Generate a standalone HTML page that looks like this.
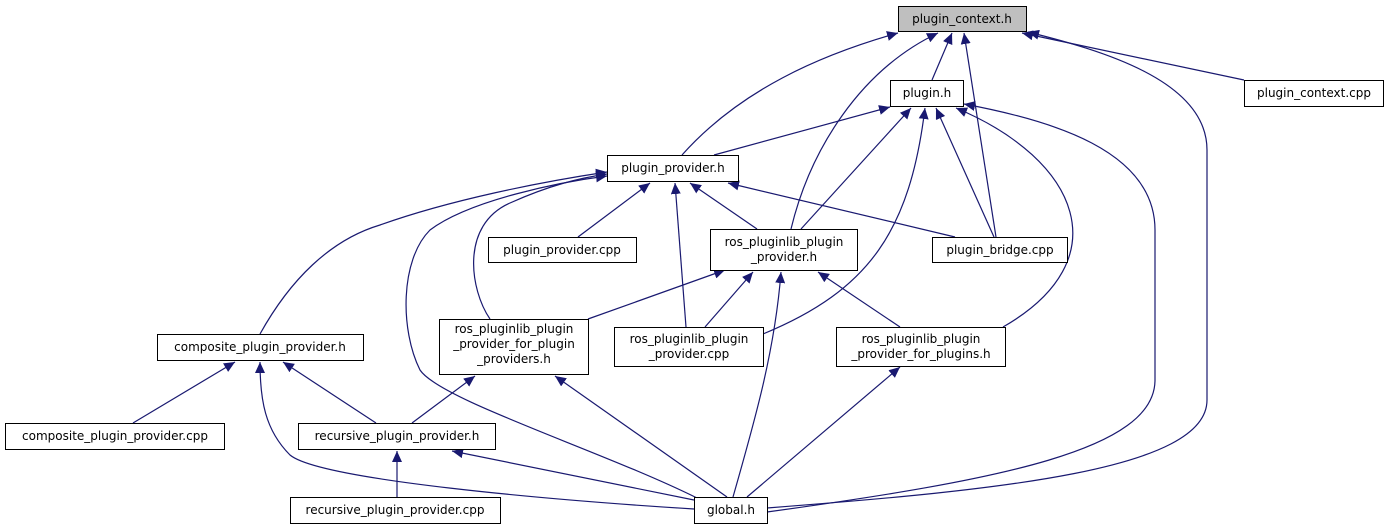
<!DOCTYPE html>
<html><head><meta charset="utf-8"><style>
html,body{margin:0;padding:0;background:#fff;}
svg{display:block}
text{font-family:"DejaVu Sans","Liberation Sans",sans-serif;font-size:12px;fill:#000}
</style></head><body>
<svg width="1393" height="529" viewBox="0 0 1393 529" xmlns="http://www.w3.org/2000/svg">
<defs>
<marker id="a" markerWidth="12" markerHeight="10" refX="11" refY="5" orient="auto" markerUnits="userSpaceOnUse">
<polygon points="0,0 11,5 0,10" fill="#191970"/>
</marker>
</defs>
<g fill="none" stroke="#191970" stroke-width="1.2" marker-end="url(#a)">
<path d="M932,80 L952,33"/>
<path d="M682,155 C740,90 820,55 898,33"/>
<path d="M791,229 C810,150 860,70 938,33"/>
<path d="M996,237 L964,33"/>
<path d="M1244,80 L1022,33"/>
<path d="M767,508 C1000,490 1207,470 1207,400 L1207,150 C1207,80 1100,50 1028,32"/>
<path d="M714,155 L890,107"/>
<path d="M801,229 L911,108"/>
<path d="M763,334 C870,290 910,230 925,108"/>
<path d="M994,237 L936,108"/>
<path d="M1003,327 C1120,260 1080,160 956,108"/>
<path d="M767,512 C1000,480 1155,450 1155,380 L1155,230 C1155,150 1050,120 964,104"/>
<path d="M578,237 L650,183"/>
<path d="M757,229 L690,183"/>
<path d="M955,237 L728,183"/>
<path d="M686,327 L675,183"/>
<path d="M260,334 C290,280 330,240 380,225 C450,200 540,182 607,172"/>
<path d="M490,319 C470,290 460,225 510,203 C550,185 580,178 607,174"/>
<path d="M697,498 C600,450 440,400 420,370 C400,330 400,260 430,230 C470,200 560,182 607,176"/>
<path d="M588,319 L725,270"/>
<path d="M705,327 L753,272"/>
<path d="M900,327 L818,272"/>
<path d="M733,497 C755,420 775,350 781,272"/>
<path d="M747,497 L900,367"/>
<path d="M412,423 L475,376"/>
<path d="M727,497 L555,376"/>
<path d="M133,423 L235,362"/>
<path d="M376,423 L283,362"/>
<path d="M694,509 C550,500 320,480 290,455 C265,430 260,400 260,362"/>
<path d="M397,497 L397,451"/>
<path d="M694,500 L452,451"/>
</g>
<g stroke="#000" stroke-width="1" fill="#fff">
<rect x="898.5" y="6.5" width="128" height="25" fill="#bfbfbf"/>
<rect x="890.5" y="80.5" width="73" height="26"/>
<rect x="1244.5" y="80.5" width="139" height="26"/>
<rect x="607.5" y="155.5" width="131" height="26"/>
<rect x="488.5" y="237.5" width="148" height="25"/>
<rect x="710.5" y="229.5" width="147" height="41"/>
<rect x="932.5" y="237.5" width="135" height="25"/>
<rect x="157.5" y="334.5" width="206" height="26"/>
<rect x="439.5" y="319.5" width="149" height="55"/>
<rect x="614.5" y="327.5" width="149" height="39"/>
<rect x="836.5" y="327.5" width="169" height="39"/>
<rect x="5.5" y="423.5" width="219" height="26"/>
<rect x="298.5" y="423.5" width="197" height="26"/>
<rect x="290.5" y="497.5" width="210" height="26"/>
<rect x="694.5" y="497.5" width="73" height="26"/>
</g>
<g text-anchor="middle">
<text x="962" y="23">plugin_context.h</text>
<text x="927" y="97">plugin.h</text>
<text x="1314" y="97">plugin_context.cpp</text>
<text x="673" y="172">plugin_provider.h</text>
<text x="562" y="254">plugin_provider.cpp</text>
<text x="784" y="246">ros_pluginlib_plugin</text>
<text x="784" y="261">_provider.h</text>
<text x="1000" y="254">plugin_bridge.cpp</text>
<text x="260" y="351">composite_plugin_provider.h</text>
<text x="514" y="333">ros_pluginlib_plugin</text>
<text x="514" y="348">_provider_for_plugin</text>
<text x="514" y="363">_providers.h</text>
<text x="689" y="343">ros_pluginlib_plugin</text>
<text x="689" y="358">_provider.cpp</text>
<text x="921" y="343">ros_pluginlib_plugin</text>
<text x="921" y="358">_provider_for_plugins.h</text>
<text x="115" y="440">composite_plugin_provider.cpp</text>
<text x="397" y="440">recursive_plugin_provider.h</text>
<text x="395" y="514">recursive_plugin_provider.cpp</text>
<text x="731" y="514">global.h</text>
</g>
</svg>
</body></html>
